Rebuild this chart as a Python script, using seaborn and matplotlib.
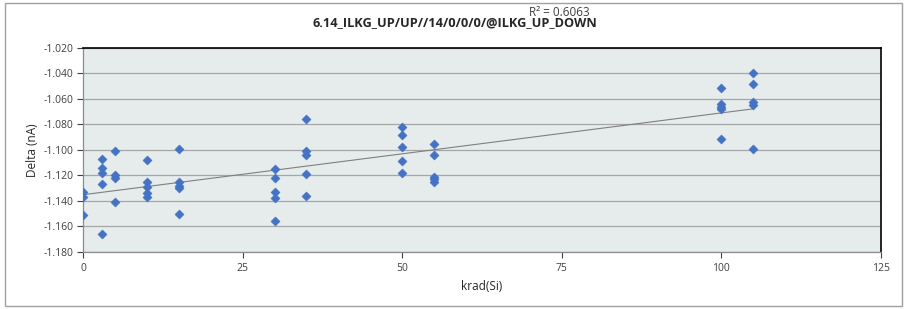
import numpy as np
import pandas as pd
import matplotlib
matplotlib.use("Agg")
import matplotlib.pyplot as plt
import seaborn as sns

krad = [0, 0, 0,
        3, 3, 3, 3, 3,
        5, 5, 5, 5,
        10, 10, 10, 10, 10,
        15, 15, 15, 15, 15,
        30, 30, 30, 30, 30,
        35, 35, 35, 35, 35,
        50, 50, 50, 50, 50,
        55, 55, 55, 55, 55,
        100, 100, 100, 100, 100,
        105, 105, 105, 105, 105]
delta = [-1.133, -1.137, -1.151,
         -1.107, -1.114, -1.118, -1.127, -1.166,
         -1.101, -1.120, -1.122, -1.141,
         -1.108, -1.125, -1.129, -1.134, -1.137,
         -1.099, -1.125, -1.128, -1.130, -1.150,
         -1.115, -1.122, -1.133, -1.138, -1.156,
         -1.076, -1.101, -1.104, -1.119, -1.136,
         -1.082, -1.088, -1.098, -1.109, -1.118,
         -1.095, -1.104, -1.121, -1.123, -1.125,
         -1.051, -1.064, -1.066, -1.068, -1.091,
         -1.040, -1.048, -1.062, -1.065, -1.099]

title = "6.14_ILKG_UP/UP//14/0/0/0/@ILKG_UP_DOWN"
r2_label = "R\u00b2 = 0.6063"
y_ticks = [-1.180, -1.160, -1.140, -1.120, -1.100, -1.080, -1.060, -1.040, -1.020]
x_ticks = [0, 25, 50, 75, 100, 125]

df = pd.DataFrame({"krad": krad, "delta": delta})

sns.set_style("white")
plt.rcParams["font.family"] = ["Open Sans", "DejaVu Sans"]

fig = plt.figure(figsize=(9.07, 3.09), dpi=100)
# outer chart border
fig.patches.append(plt.Rectangle((0.006, 0.01), 0.988, 0.98, transform=fig.transFigure,
                                 fill=False, edgecolor="#a0a0a0", linewidth=1))
ax = fig.add_axes([0.0915, 0.1845, 0.8798, 0.6602])
ax.set_facecolor("#e6ecec")

# trend line
slope, icpt = np.polyfit(df["krad"], df["delta"], 1)
trend = pd.DataFrame({"krad": [0, max(krad)]})
trend["delta"] = icpt + slope * trend["krad"]
sns.lineplot(data=trend, x="krad", y="delta", ax=ax, color="#7f7f7f", linewidth=0.8, zorder=2)

sns.scatterplot(data=df, x="krad", y="delta", ax=ax, marker="D", s=22,
                color="#4472c4", edgecolor="#4472c4", linewidth=0.3, zorder=3)

ax.set_xlim(0, 125)
ax.set_ylim(-1.180, -1.020)
ax.set_xticks(x_ticks)
ax.set_yticks(y_ticks)
ax.set_yticklabels([f"{v:.3f}" for v in y_ticks])
ax.grid(axis="y", color="#a6a6a6", linewidth=0.9)
ax.set_axisbelow(True)
ax.tick_params(axis="both", labelsize=7.5, colors="#404040", length=4, width=0.8, direction="out")
ax.tick_params(axis="y", pad=3)
ax.tick_params(axis="x", pad=4)
ax.xaxis.set_ticks_position("bottom")
ax.yaxis.set_ticks_position("left")
for side in ["top", "right"]:
    ax.spines[side].set_color("black")
    ax.spines[side].set_linewidth(1.2)
for side in ["left", "bottom"]:
    ax.spines[side].set_color("#8c8c8c")
    ax.spines[side].set_linewidth(0.9)

ax.set_xlabel("krad(Si)", fontsize=8.5, labelpad=4)
ax.set_ylabel("Delta (nA)", fontsize=8.5, labelpad=3)

fig.text(0.502, 0.928, title, ha="center", va="center", fontsize=9.2, fontweight="bold")
fig.text(0.617, 0.96, r2_label, ha="center", va="center", fontsize=8.5, color="#404040")

fig.savefig("out.png", dpi=100)
